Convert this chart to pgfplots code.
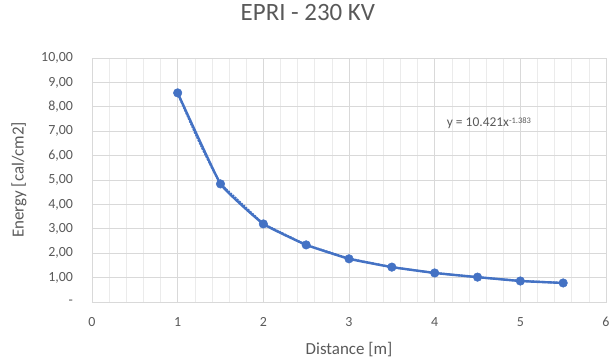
\documentclass[border=0pt]{standalone}
\usepackage{pgfplots}
\pgfplotsset{compat=1.18}
\usepackage{fontspec}
\setmainfont{Carlito}
\definecolor{txt}{HTML}{595959}
\definecolor{grd}{HTML}{D9D9D9}
\definecolor{mgrd}{HTML}{EBEBEB}
\definecolor{ser}{HTML}{4472C4}
\begin{document}
\begin{tikzpicture}
\useasboundingbox (-92bp,-56bp) rectangle (520bp,302bp);
\begin{axis}[
  at={(0,0)}, anchor=south west,
  scale only axis, width=514bp, height=244bp,
  xmin=0, xmax=6, ymin=0, ymax=10,
  xtick={0,1,...,6},
  ytick={0,1,...,10},
  yticklabels={{-},{1,00},{2,00},{3,00},{4,00},{5,00},{6,00},{7,00},{8,00},{9,00},{10,00}},
  minor x tick num=4,
  grid=both,
  major grid style={grd, line width=0.8pt},
  minor grid style={mgrd, line width=0.6pt},
  xmajorgrids, ymajorgrids, yminorgrids=false,
  axis line style={grd, line width=0.8pt},
  tick style={draw=none},
  ticklabel style={text=txt, font=\fontsize{14}{16}\selectfont},
  xticklabel style={anchor=center, yshift=-20bp},
  yticklabel style={anchor=east, xshift=-15.5bp},
  /pgf/number format/assume math mode=true,
  xlabel={Distance [m]},
  ylabel={Energy [cal/cm2]},
  label style={text=txt, font=\fontsize{17}{18}\selectfont},
  xlabel style={at={(axis description cs:0.5,-0.195)}, anchor=center},
  ylabel style={at={(axis description cs:-0.142,0.5)}, anchor=center, rotate=0},
  title={EPRI - 230 KV},
  title style={text=txt, font=\fontsize{25}{28}\selectfont, at={(axis description cs:0.42,1.164)}, anchor=center},
  clip=false,
]
\addplot[ser, densely dotted, line width=2pt] coordinates {
 (1,8.55) (1.1,7.75) (1.2,6.95) (1.3,6.2) (1.4,5.5) (1.5,4.84)
 (2,3.2) (2.5,2.34) (3,1.78) (3.5,1.43) (4,1.19) (4.5,1.01) (5,0.87) (5.5,0.78)};
\addplot[ser, line width=2.4pt, smooth, tension=0.2, mark=*, mark size=4.3pt,
  mark options={fill=ser, draw=ser, line width=0.5pt}] coordinates {
 (1,8.57) (1.5,4.84) (2,3.2) (2.5,2.34) (3,1.77) (3.5,1.43) (4,1.19) (4.5,1.02) (5,0.86) (5.5,0.78)};
\node[text=txt, font=\fontsize{13.5}{15}\selectfont, anchor=west, inner sep=0pt] at (axis cs:4.14,7.33) {y = 10.421x\raisebox{0.6ex}{\fontsize{8.5}{9}\selectfont -1.383}};
\end{axis}
\end{tikzpicture}
\end{document}
